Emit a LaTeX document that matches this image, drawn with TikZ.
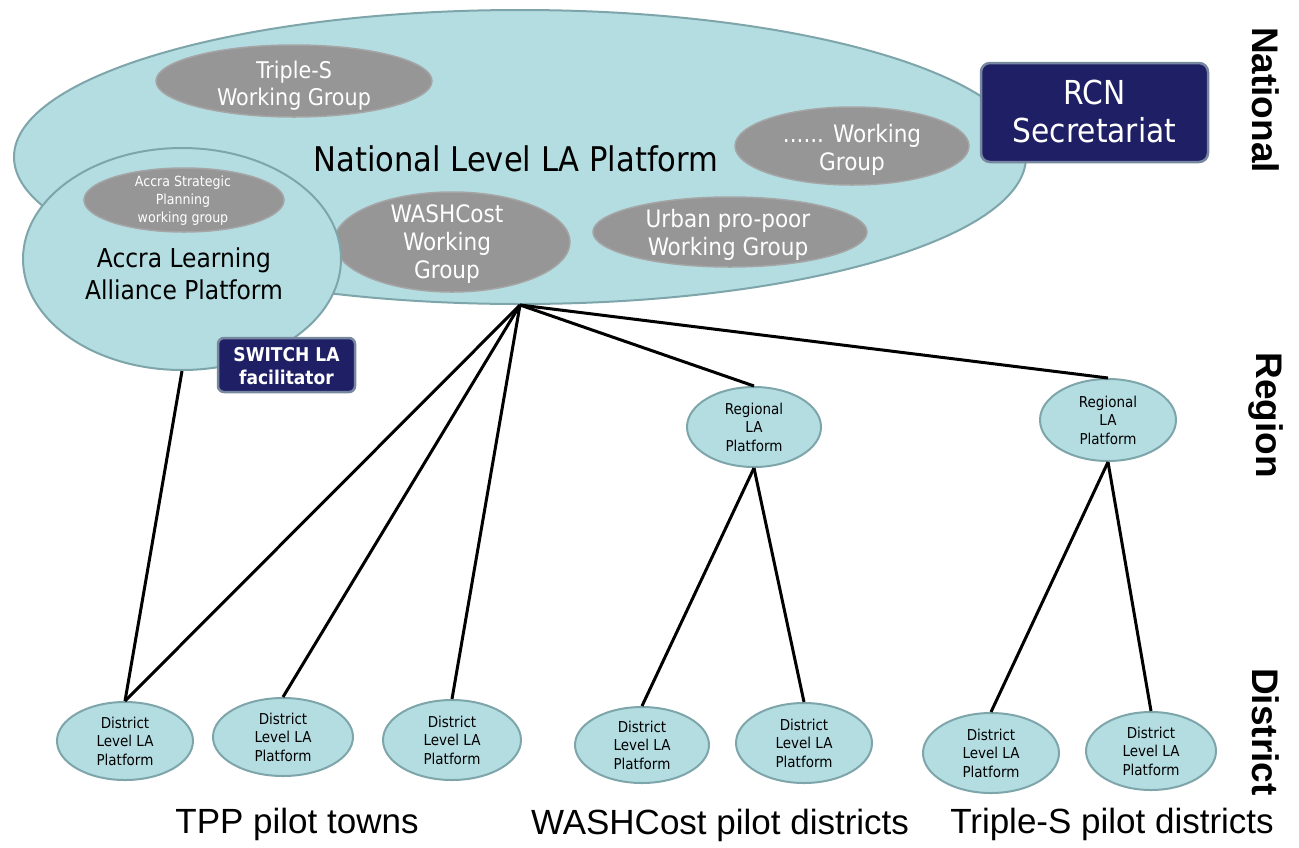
\documentclass[tikz,border=0pt]{standalone}
\usepackage{fontspec}
\setmainfont{DejaVu Sans Condensed}
\newfontfamily\arialfont{Liberation Sans}
\usetikzlibrary{shapes.geometric}

\definecolor{laFill}{RGB}{180,221,226}
\definecolor{laEdge}{RGB}{125,165,170}
\definecolor{wgFill}{RGB}{150,150,150}
\definecolor{wgEdge}{RGB}{165,165,165}
\definecolor{navyFill}{RGB}{31,31,102}
\definecolor{navyEdge}{RGB}{120,135,160}

\newcommand{\fs}[2]{\fontsize{#1}{#2}\selectfont}

\tikzset{
  platform/.style={ellipse, draw=laEdge, fill=laFill, line width=2pt, inner sep=0pt},
  wgroup/.style={ellipse, draw=wgEdge, fill=wgFill, line width=1.5pt, inner sep=0pt},
  navybox/.style={rectangle, rounded corners=9pt, draw=navyEdge, fill=navyFill,
                  line width=2.5pt, inner sep=0pt},
  wgtext/.style={text=white, align=center, inner sep=0pt},
  latext/.style={text=black, align=center, inner sep=0pt},
  smalltext/.style={text=black, align=center, inner sep=0pt, font=\fs{15}{18.5}},
  levellabel/.style={font=\arialfont\bfseries\fs{37}{40}, rotate=-90, inner sep=0pt},
  grouplabel/.style={font=\arialfont\fs{35}{40}, anchor=base, inner sep=0pt},
  link/.style={line width=3pt, black}
}

\begin{document}
\begin{tikzpicture}[x=1pt, y=-1pt]
  \useasboundingbox (0,0) rectangle (1299,847);
  \fill[white] (0,0) rectangle (1299,847);

  % national platform with its working groups
  \node[platform, minimum width=1012, minimum height=294] (national) at (520,157) {};
  \node[wgroup, minimum width=276, minimum height=72] (triples) at (294,81) {};
  \node[wgroup, minimum width=236, minimum height=100] (washwg) at (452,242) {};
  \node[wgroup, minimum width=274, minimum height=70] (urbanwg) at (730,232) {};
  \node[wgroup, minimum width=234, minimum height=78] (otherwg) at (852,146) {};
  \node[latext, font=\fs{34}{40}] (nattext) at (516,159) {National Level LA Platform};
  \node[wgtext, font=\fs{23}{27}] at (294,85.5) {Triple-S\\Working Group};
  \node[wgtext, font=\fs{24}{28}] at (447,244) {WASHCost\\Working\\Group};
  \node[wgtext, font=\fs{24}{28}] at (728,235) {Urban pro-poor\\Working Group};
  \node[wgtext, font=\fs{24}{28}] at (852,150) {...... Working\\Group};

  % Accra platform
  \node[platform, minimum width=318, minimum height=222] (accra) at (182,259) {};
  \node[wgroup, minimum width=200, minimum height=64] (accrawg) at (184,200) {};
  \node[wgtext, font=\fs{14}{18}] at (183,201) {Accra Strategic\\Planning\\working group};
  \node[latext, font=\fs{26}{32}] at (184,274) {Accra Learning\\Alliance Platform};

  % secretariat and facilitator boxes
  \node[navybox, minimum width=227, minimum height=99] (rcn) at (1094.5,112.5) {};
  \node[wgtext, font=\fs{33}{38}] at (1094.5,111.5) {RCN\\Secretariat};
  \node[navybox, rounded corners=6pt, minimum width=137, minimum height=54] (switch) at (286.5,365) {};
  \node[wgtext, font=\bfseries\fs{19}{23}] at (286.5,366) {SWITCH LA\\facilitator};

  % regional platforms
  \node[platform, minimum width=134, minimum height=80,
        label={[smalltext]center:Regional\\LA\\Platform}] (reg1) at (754,427) {};
  \node[platform, minimum width=136, minimum height=82,
        label={[smalltext]center:Regional\\LA\\Platform}] (reg2) at (1108,420) {};

  % district platforms
  \tikzset{district/.style={platform, label={[smalltext]center:District\\Level LA\\Platform}}}
  \node[district, minimum width=136, minimum height=78] (d1) at (125,741) {};
  \node[district, minimum width=140, minimum height=78] (d2) at (283,737) {};
  \node[district, minimum width=138, minimum height=80] (d3) at (452,740) {};
  \node[district, minimum width=134, minimum height=76] (w1) at (642,745) {};
  \node[district, minimum width=136, minimum height=80] (w2) at (804,743) {};
  \node[district, minimum width=136, minimum height=80] (t1) at (991,753) {};
  \node[district, minimum width=130, minimum height=78] (t2) at (1151,751) {};

  % connectors
  \draw[link] (national.south) -- (d1.north);
  \draw[link] (national.south) -- (d2.north);
  \draw[link] (national.south) -- (d3.north);
  \draw[link] (national.south) -- (reg1.north);
  \draw[link] (national.south) -- (reg2.north);
  \draw[link] (accra.south) -- (d1.north);
  \draw[link] (reg1.south) -- (w1.north);
  \draw[link] (reg1.south) -- (w2.north);
  \draw[link] (reg2.south) -- (t1.north);
  \draw[link] (reg2.south) -- (t2.north);

  % level labels
  \node[levellabel] (lvnat) at (1266,100) {National};
  \node[levellabel] (lvreg) at (1266,415) {Region};
  \node[levellabel] (lvdis) at (1266,732) {District};

  % group captions
  \node[grouplabel] (tpp) at (297,833) {TPP pilot towns};
  \node[grouplabel] (washd) at (720,834) {WASHCost pilot districts};
  \node[grouplabel] (tripd) at (1112,833) {Triple-S pilot districts};
\end{tikzpicture}
\end{document}
